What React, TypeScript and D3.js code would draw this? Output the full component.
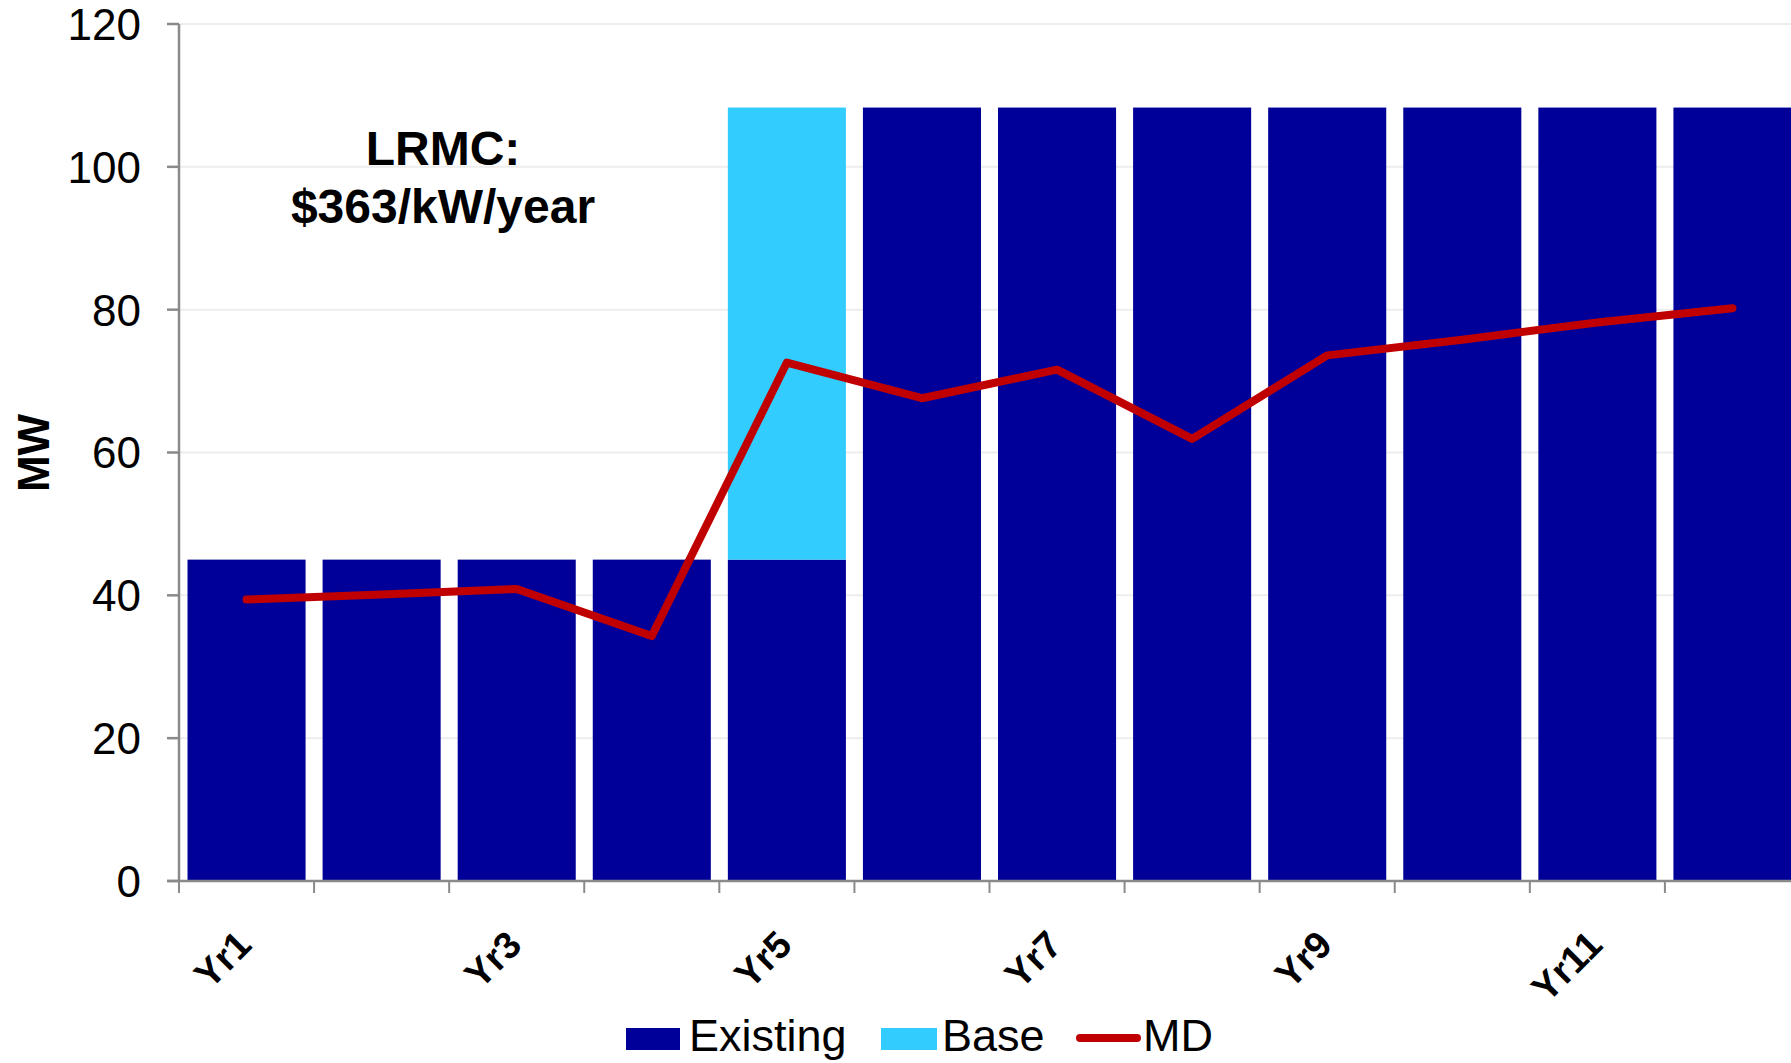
import React from "react";
import * as d3 from "d3";

// Chart data
const years = ["Yr1", "Yr2", "Yr3", "Yr4", "Yr5", "Yr6", "Yr7", "Yr8", "Yr9", "Yr10", "Yr11", "Yr12"];
const existing = [45, 45, 45, 45, 45, 108.3, 108.3, 108.3, 108.3, 108.3, 108.3, 108.3];
const base = [0, 0, 0, 0, 63.3, 0, 0, 0, 0, 0, 0, 0];
const md = [39.4, 40.1, 40.9, 34.3, 72.6, 67.6, 71.6, 61.9, 73.6, 75.8, 78.2, 80.2];
const yTicks = [0, 20, 40, 60, 80, 100, 120];
const shownLabels = ["Yr1", "Yr3", "Yr5", "Yr7", "Yr9", "Yr11"];

const W = 1791;
const H = 1063;
const FONT = "'Liberation Sans', Arial, Helvetica, sans-serif";
const C_EXIST = "#000099";
const C_BASE = "#33CCFF";
const C_MD = "#C00000";
const C_AXIS = "#8a8a8a";
const C_GRID = "#ededed";

export default function App() {
  const left = 179;
  const plotRight = 1800; // the last band runs slightly past the canvas edge
  const y0 = 881;
  const yTop = 24;

  const x = d3
    .scaleBand<string>()
    .domain(years)
    .range([left, plotRight])
    .paddingInner(0.126)
    .paddingOuter(0.063);
  const step = x.step();
  const y = d3.scaleLinear().domain([0, 120]).range([y0, yTop]);

  const line = d3
    .line<number>()
    .x((_, i) => (x(years[i]) as number) + x.bandwidth() / 2)
    .y((d) => y(d));

  // category boundaries for the x-axis tick marks
  const boundaries = d3.range(years.length + 1).map((i) => left + i * step);

  return (
    <svg
      width={W}
      height={H}
      viewBox={`0 0 ${W} ${H}`}
      style={{ position: "absolute", left: 0, top: 0, display: "block", background: "#fff" }}
      fontFamily={FONT}
    >
      {/* gridlines */}
      {yTicks.slice(1).map((t) => (
        <line key={"g" + t} x1={left} x2={W} y1={y(t)} y2={y(t)} stroke={C_GRID} strokeWidth={2} />
      ))}

      {/* stacked bars */}
      {years.map((yr, i) => (
        <g key={yr}>
          <rect
            x={x(yr)}
            y={y(existing[i])}
            width={x.bandwidth()}
            height={y(0) - y(existing[i])}
            fill={C_EXIST}
          />
          {base[i] > 0 && (
            <rect
              x={x(yr)}
              y={y(existing[i] + base[i])}
              width={x.bandwidth()}
              height={y(existing[i]) - y(existing[i] + base[i])}
              fill={C_BASE}
            />
          )}
        </g>
      ))}

      {/* MD line */}
      <path
        d={line(md) || ""}
        fill="none"
        stroke={C_MD}
        strokeWidth={8}
        strokeLinejoin="round"
        strokeLinecap="round"
      />

      {/* y axis */}
      <line x1={left} x2={left} y1={yTop} y2={y0} stroke={C_AXIS} strokeWidth={2.5} />
      {yTicks.map((t) => (
        <g key={"yt" + t}>
          <line x1={left - 12} x2={left} y1={y(t)} y2={y(t)} stroke={C_AXIS} strokeWidth={2.5} />
          <text x={141} y={y(t)} dy="0.36em" textAnchor="end" fontSize={44} fill="#000">
            {t}
          </text>
        </g>
      ))}

      {/* x axis */}
      <line x1={left - 12} x2={W} y1={y0} y2={y0} stroke={C_AXIS} strokeWidth={2.5} />
      {boundaries.map((bx, i) => (
        <line key={"xt" + i} x1={bx} x2={bx} y1={y0} y2={y0 + 12} stroke={C_AXIS} strokeWidth={2} />
      ))}
      {years.map((yr) =>
        shownLabels.includes(yr) ? (
          <text
            key={"xl" + yr}
            transform={`translate(${(x(yr) as number) + x.bandwidth() / 2 + 7},${947}) rotate(-45)`}
            textAnchor="end"
            fontSize={38}
            fontWeight="bold"
            fill="#000"
          >
            {yr}
          </text>
        ) : null
      )}

      {/* y axis title */}
      <text
        transform={`translate(${49},${453}) rotate(-90)`}
        textAnchor="middle"
        fontSize={44}
        fontWeight="bold"
        fill="#000"
      >
        MW
      </text>

      {/* annotation */}
      <text x={443} y={165} textAnchor="middle" fontSize={48} fontWeight="bold" fill="#000">
        LRMC:
      </text>
      <text x={443} y={223} textAnchor="middle" fontSize={48} fontWeight="bold" fill="#000">
        $363/kW/year
      </text>

      {/* legend */}
      <g fontSize={45} fill="#000">
        <rect x={626} y={1028} width={54} height={22} fill={C_EXIST} />
        <text x={689} y={1051}>Existing</text>
        <rect x={881} y={1028} width={56} height={22} fill={C_BASE} />
        <text x={942} y={1051}>Base</text>
        <line x1={1080} x2={1137} y1={1038} y2={1038} stroke={C_MD} strokeWidth={8} strokeLinecap="round" />
        <text x={1143} y={1051}>MD</text>
      </g>
    </svg>
  );
}
